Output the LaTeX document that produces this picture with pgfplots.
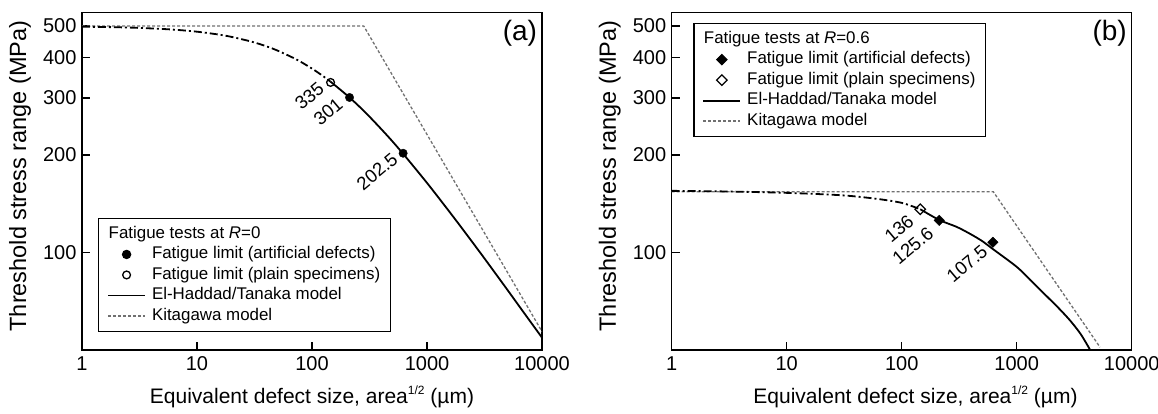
\documentclass[border=0pt]{standalone}
\usepackage{fontspec}
\setmainfont{Liberation Sans}
\usepackage{pgfplots}
\pgfplotsset{compat=1.18}
\definecolor{kgray}{RGB}{112,112,112}
\tikzset{
  ehdd/.style={line width=1.8pt, black, dash pattern=on 8pt off 3pt on 2pt off 3pt},
  ehs/.style={line width=1.8pt, black},
  kit/.style={line width=1.3pt, kgray, dash pattern=on 3pt off 2pt},
}
\pgfplotsset{
  longleg/.style={legend image code/.code={\draw[mark repeat=2,mark phase=2,##1] plot coordinates {(0pt,0pt)(18.5pt,0pt)(37pt,0pt)};}},
  every axis/.append style={
    width=460pt, height=337.3pt, scale only axis,
    xmin=1, xmax=10000, ymin=50, ymax=550,
    xtick={1,10,100,1000,10000}, xticklabels={1,10,100,1000,10000},
    ytick={100,200,300,400,500}, yticklabels={100,200,300,400,500},
    xminorticks=false, yminorticks=false,
    tick align=inside, tick pos=left,
    major tick length=8pt,
    axis line style={line width=1.5pt},
    tick style={line width=1.2pt, black},
    ticklabel style={font=\fontsize{20}{24}\selectfont},
    xticklabel style={yshift=-3pt},
    yticklabel style={xshift=-2pt},
    legend cell align=left,
    legend style={draw=black, line width=1.2pt, font=\fontsize{16.9}{19}\selectfont,
      inner xsep=8.5pt, inner ysep=5pt, row sep=0pt,
      nodes={inner sep=1.5pt, text height=13pt, text depth=4.5pt},
      /tikz/every odd column/.append style={column sep=4.5pt}},
  },
  every axis y label/.style={at={(axis description cs:-0.1348,0.516)}, rotate=90, anchor=center, font=\fontsize{23.5}{27}\selectfont},
}
\newcommand{\xlab}{Equivalent defect size, area\raisebox{0.75ex}{\fontsize{12}{12}\selectfont 1/2} (µm)}
\begin{document}
\begin{tikzpicture}
\path[use as bounding box] (0,0) rectangle (1158pt,414pt);
% ---------------- panel (a)
\begin{loglogaxis}[at={(82pt,64pt)}, anchor=south west,
  /pgf/number format/assume math mode=true,
  xlabel={\xlab},
  ylabel={Threshold stress range (MPa)},
  every axis x label/.style={at={(axis description cs:0.5,-0.139)}, anchor=center, font=\fontsize{21}{25}\selectfont},
  legend style={at={(rel axis cs:0.035,0.391)}, anchor=north west}]
\addplot[kit, forget plot] coordinates {(1,500)(282,500)(10000,57)};
\addplot[ehdd, smooth, forget plot] coordinates {(1,497.9)(2,495.9)(3,493.9)(5,489.9)(7,486.1)(10,480.5)(15,471.5)(20,463.0)(30,447.4)(40,433.2)(50,420.3)(70,397.7)(85,382.9)(100,369.6)(120,353.9)(145,336.8)};
\addplot[ehs, smooth, forget plot] coordinates {(145,336.8)(212,301)(300,267.7)(450,229.8)(620,201.7)(1000,164.0)(1500,136.3)(2000,119.2)(3000,98.3)(4000,85.5)(5000,76.7)(7000,65.0)(10000,54.6)};
\addplot[only marks, mark=*, mark size=4.2pt, black, forget plot] coordinates {(212,301)(620,202.5)};
\addplot[only marks, mark=o, mark size=3.9pt, mark options={fill=white, line width=1.3pt}, black, forget plot] coordinates {(145,335)};
\addlegendimage{legend image code/.code={\node[overlay, anchor=west, inner sep=0pt, font=\fontsize{16.9}{19}\selectfont] at (0pt,0pt) {Fatigue tests at \textit{R}=0};}}
\addlegendentry{}
\addlegendimage{longleg, only marks, mark=*, mark size=4.2pt, black, line width=1pt}
\addlegendentry{Fatigue limit (artificial defects)}
\addlegendimage{longleg, only marks, mark=o, mark size=3.9pt, mark options={fill=white, line width=1.3pt}, black, line width=1.3pt}
\addlegendentry{Fatigue limit (plain specimens)}
\addlegendimage{longleg, black, line width=1.8pt}
\addlegendentry{El-Haddad/Tanaka model}
\addlegendimage{longleg, kgray, line width=1.3pt, dash pattern=on 3pt off 2pt}
\addlegendentry{Kitagawa model}
\node[rotate=40, font=\fontsize{18.5}{20}\selectfont] at (axis cs:95,304) {335};
\node[rotate=40, font=\fontsize{18.5}{20}\selectfont] at (axis cs:138,272) {301};
\node[rotate=40, font=\fontsize{18.5}{20}\selectfont] at (axis cs:368,178) {202.5};
\node[font=\fontsize{28}{32}\selectfont] at (rel axis cs:0.952,0.94) {(a)};
\end{loglogaxis}
% ---------------- panel (b)
\begin{loglogaxis}[at={(671.7pt,64pt)}, anchor=south west,
  /pgf/number format/assume math mode=true,
  xlabel={\xlab},
  ylabel={Threshold stress range (MPa)},
  every axis x label/.style={at={(axis description cs:0.53,-0.139)}, anchor=center, font=\fontsize{21}{25}\selectfont},
  legend style={at={(rel axis cs:0.047,0.9686)}, anchor=north west}]
\addplot[kit, forget plot] coordinates {(1,154)(626,154)(5300,51)};
\addplot[ehdd, smooth, forget plot] coordinates {(1,155)(3,154.3)(10,152.8)(30,150.2)(60,146.5)(100,142.3)(145,136)};
\addplot[ehs, smooth, forget plot] coordinates {(145,136)(212,126)(300,120)(391,114.3)(500,108.5)(620,102.5)(1000,90.3)(1300,82.5)(1726,74.7)(2300,67.5)(2897,61.8)(3600,56)(4357,50)(4600,48.5)};
\addplot[only marks, mark=square*, mark size=3.7pt, mark options={rotate=45}, black, forget plot] coordinates {(212,125.6)(620,107.5)};
\addplot[only marks, mark=square, mark size=3.7pt, mark options={rotate=45, fill=white, line width=1.3pt}, black, forget plot] coordinates {(145,136)};
\addlegendimage{legend image code/.code={\node[overlay, anchor=west, inner sep=0pt, font=\fontsize{16.9}{19}\selectfont] at (0pt,0pt) {Fatigue tests at \textit{R}=0.6};}}
\addlegendentry{}
\addlegendimage{longleg, only marks, mark=square*, mark size=3.7pt, mark options={rotate=45}, black, line width=1pt}
\addlegendentry{Fatigue limit (artificial defects)}
\addlegendimage{longleg, only marks, mark=square, mark size=3.7pt, mark options={rotate=45, fill=white, line width=1.3pt}, black, line width=1.3pt}
\addlegendentry{Fatigue limit (plain specimens)}
\addlegendimage{longleg, black, line width=1.8pt}
\addlegendentry{El-Haddad/Tanaka model}
\addlegendimage{longleg, kgray, line width=1.3pt, dash pattern=on 3pt off 2pt}
\addlegendentry{Kitagawa model}
\node[rotate=40, font=\fontsize{18.5}{20}\selectfont] at (axis cs:95,118.5) {136};
\node[rotate=40, font=\fontsize{18.5}{20}\selectfont] at (axis cs:125,105) {125.6};
\node[rotate=40, font=\fontsize{18.5}{20}\selectfont] at (axis cs:370,92.3) {107.5};
\node[font=\fontsize{28}{32}\selectfont] at (rel axis cs:0.952,0.94) {(b)};
\end{loglogaxis}
\end{tikzpicture}
\end{document}
